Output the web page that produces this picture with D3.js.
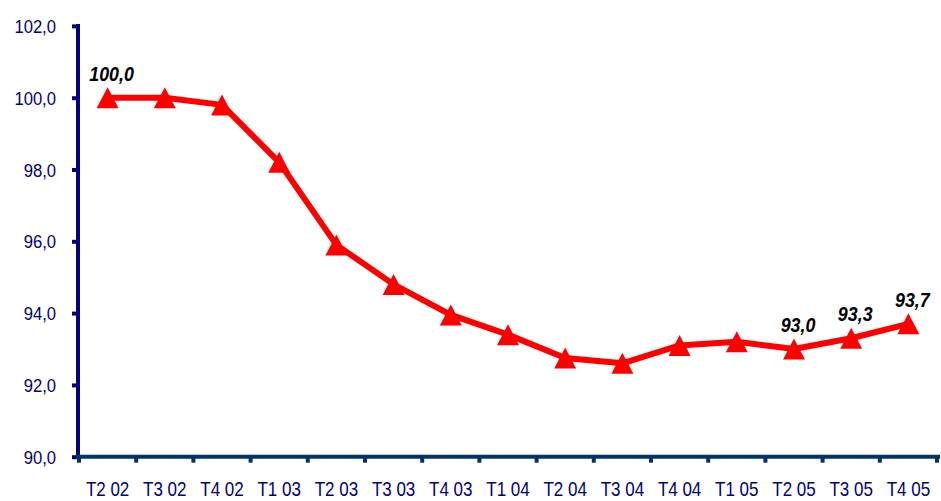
<!DOCTYPE html>
<html>
<head>
<meta charset="utf-8">
<script src="https://cdn.jsdelivr.net/npm/d3@7"></script>
<style>
  html, body { margin: 0; padding: 0; background: #fff; }
  svg { display: block; }
</style>
</head>
<body>
<svg id="chart" width="941" height="501"></svg>
<script>
// Quarterly index, base T2 02 = 100
const quarters = ["T2 02","T3 02","T4 02","T1 03","T2 03","T3 03","T4 03","T1 04","T2 04","T3 04","T4 04","T1 05","T2 05","T3 05","T4 05"];
const indexValues = [100.0, 100.0, 99.8, 98.2, 95.9, 94.8, 93.95, 93.4, 92.75, 92.6, 93.1, 93.2, 93.0, 93.3, 93.7];
const yTicks = [90, 92, 94, 96, 98, 100, 102];
// Quarters that carry a value label
const labelled = ["T2 02", "T2 05", "T3 05", "T4 05"];

const svg = d3.select("#chart");
const plotLeft = 78, plotRight = 937, plotTop = 25.9, plotBottom = 456.7;
const FONT = "'Liberation Sans', Arial, sans-serif";

const x = d3.scaleBand().domain(quarters).range([plotLeft + 1, plotRight]);
const y = d3.scaleLinear().domain([90, 102]).range([plotBottom, plotTop]);
const fmt = v => d3.format(".1f")(v).replace(".", ",");

// Y axis
const yAxis = svg.append("g")
  .attr("transform", `translate(${plotLeft},0)`)
  .call(d3.axisLeft(y).tickValues(yTicks).tickFormat(fmt).tickSize(6).tickPadding(16));
yAxis.select(".domain").attr("d", `M0,${plotTop - 2}V${plotBottom + 2}`)
  .attr("stroke", "#000080").attr("stroke-width", 4);
yAxis.selectAll(".tick line").attr("stroke", "#000080").attr("stroke-width", 4);
yAxis.selectAll(".tick text")
  .attr("fill", "#000080")
  .attr("x", -22 / 0.9)
  .attr("dy", "0.36em")
  .attr("transform", "scale(0.9,1)")
  .style("font-family", FONT)
  .style("font-size", "18.5px");

// X axis with ticks at the quarter boundaries
const xAxis = svg.append("g").attr("transform", `translate(0,${plotBottom})`);
xAxis.append("line")
  .attr("x1", plotLeft - 2).attr("x2", plotRight + 3)
  .attr("stroke", "#003366").attr("stroke-width", 4);
const edges = quarters.map(q => x(q)).concat([x(quarters[quarters.length - 1]) + x.bandwidth()]);
xAxis.selectAll("line.edge").data(edges).join("line")
  .attr("class", "edge")
  .attr("x1", d => d).attr("x2", d => d)
  .attr("y1", 0).attr("y2", 6)
  .attr("stroke", "#003366").attr("stroke-width", 4);
xAxis.selectAll("g.lbl").data(quarters).join("g")
  .attr("class", "lbl")
  .attr("transform", d => `translate(${x(d) + x.bandwidth() / 2},${39.3}) scale(0.85,1)`)
  .append("text")
  .attr("text-anchor", "middle")
  .attr("fill", "#000080")
  .style("font-family", FONT)
  .style("font-size", "20px")
  .text(d => d);

const cx = (d, i) => x(quarters[i]) + x.bandwidth() / 2;

// Index line
svg.append("path")
  .datum(indexValues)
  .attr("fill", "none")
  .attr("stroke", "#ff0000")
  .attr("stroke-width", 6)
  .attr("stroke-linejoin", "round")
  .attr("d", d3.line().x(cx).y(d => y(d)));

// Triangle markers
svg.selectAll("path.marker").data(indexValues).join("path")
  .attr("class", "marker")
  .attr("d", "M0,-10.5L11,10.5L-11,10.5Z")
  .attr("transform", (d, i) => `translate(${cx(d, i)},${y(d)})`)
  .attr("fill", "#ff0000");

// Value labels
svg.selectAll("g.value")
  .data(indexValues.map((v, i) => ({ v, i })).filter(d => labelled.includes(quarters[d.i])))
  .join("g")
  .attr("class", "value")
  .attr("transform", d => `translate(${cx(d.v, d.i) + 4},${y(d.v) - 17}) scale(0.85,1)`)
  .append("text")
  .attr("text-anchor", "middle")
  .attr("fill", "#000")
  .style("font-family", FONT)
  .style("font-size", "21px")
  .style("font-weight", "bold")
  .style("font-style", "italic")
  .text(d => fmt(d.v));
</script>
</body>
</html>
